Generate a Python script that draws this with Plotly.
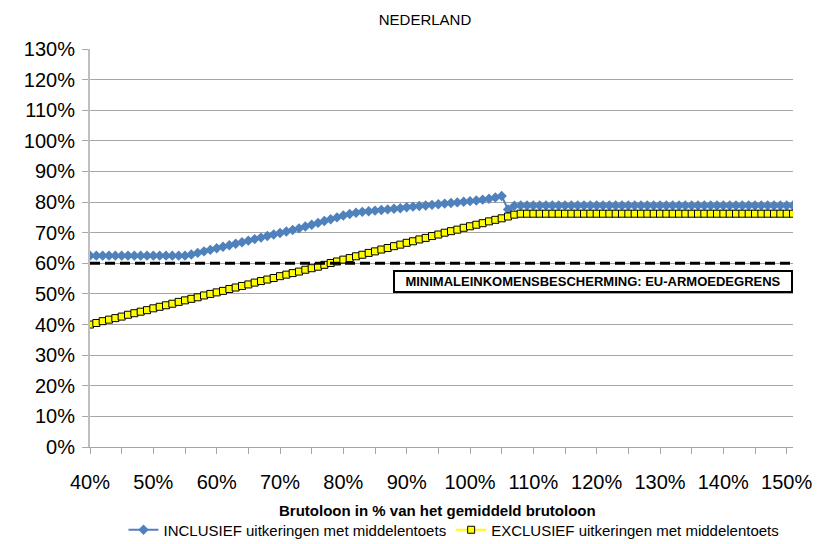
import plotly.graph_objects as go

# Brutoloon als % van het gemiddeld brutoloon (40% .. 151%, stappen van 1%)
brutoloon = list(range(40, 152))

# Netto inkomen inclusief uitkeringen met middelentoets (% van gemiddeld)
inclusief = [
    62.5, 62.5, 62.5, 62.5, 62.5, 62.5, 62.5, 62.5, 62.5, 62.5,   # 40-49
    62.5, 62.5, 62.5, 62.5, 62.5, 62.5, 62.9, 63.4, 63.9, 64.4,   # 50-59
    64.9, 65.4, 65.9, 66.4, 66.9, 67.4, 67.9, 68.4, 68.9, 69.4,   # 60-69
    69.9, 70.4, 70.9, 71.4, 72.0, 72.6, 73.2, 73.8, 74.4, 75.0,   # 70-79
    75.6, 76.1, 76.5, 76.8, 77.0, 77.2, 77.4, 77.6, 77.8, 78.0,   # 80-89
    78.3, 78.5, 78.7, 78.9, 79.1, 79.3, 79.5, 79.7, 79.9, 80.1,   # 90-99
    80.3, 80.5, 80.8, 81.1, 81.5, 82.0, 77.6, 78.8, 78.9, 78.9,   # 100-109
    78.9, 78.9, 78.9, 78.9, 78.9, 78.9, 78.9, 78.9, 78.9, 78.9,   # 110-119
    78.9, 78.9, 78.9, 78.9, 78.9, 78.9, 78.9, 78.9, 78.9, 78.9,   # 120-129
    78.9, 78.9, 78.9, 78.9, 78.9, 78.9, 78.9, 78.9, 78.9, 78.9,   # 130-139
    78.9, 78.9, 78.9, 78.9, 78.9, 78.9, 78.9, 78.9, 78.9, 78.9,   # 140-149
    78.9, 78.9,                                                   # 150-151
]

# Netto inkomen exclusief uitkeringen met middelentoets (% van gemiddeld)
exclusief = [
    40.0, 40.5, 41.1, 41.6, 42.1, 42.6, 43.2, 43.7, 44.2, 44.7,   # 40-49
    45.3, 45.8, 46.3, 46.8, 47.4, 47.9, 48.4, 48.9, 49.5, 50.0,   # 50-59
    50.5, 51.0, 51.6, 52.1, 52.6, 53.1, 53.7, 54.2, 54.7, 55.2,   # 60-69
    55.8, 56.3, 56.8, 57.3, 57.9, 58.4, 58.9, 59.5, 60.1, 60.6,   # 70-79
    61.2, 61.7, 62.3, 62.8, 63.4, 63.9, 64.5, 65.0, 65.6, 66.1,   # 80-89
    66.7, 67.2, 67.8, 68.3, 68.9, 69.4, 70.0, 70.5, 71.0, 71.6,   # 90-99
    72.1, 72.6, 73.1, 73.7, 74.2, 74.7, 75.3, 75.9, 76.2, 76.2,   # 100-109
    76.2, 76.2, 76.2, 76.2, 76.2, 76.2, 76.2, 76.2, 76.2, 76.2,   # 110-119
    76.2, 76.2, 76.2, 76.2, 76.2, 76.2, 76.2, 76.2, 76.2, 76.2,   # 120-129
    76.2, 76.2, 76.2, 76.2, 76.2, 76.2, 76.2, 76.2, 76.2, 76.2,   # 130-139
    76.2, 76.2, 76.2, 76.2, 76.2, 76.2, 76.2, 76.2, 76.2, 76.2,   # 140-149
    76.2, 76.2,                                                   # 150-151
]

armoedegrens = 60.0
x_ticks = [40, 50, 60, 70, 80, 90, 100, 110, 120, 130, 140, 150]
x_ticktext = [f"{v}%" for v in x_ticks]

W, H = 832, 544
M_L, M_R, M_T, M_B = 90, 39, 49, 97
PLOT_W, PLOT_H = W - M_L - M_R, H - M_T - M_B
FONT = "Liberation Sans, Arial, sans-serif"
GRID = "#A6A6A6"

fig = go.Figure()

fig.add_trace(go.Scatter(
    x=brutoloon, y=inclusief, mode="lines+markers",
    name="INCLUSIEF uitkeringen met middelentoets",
    line=dict(color="#4F81BD", width=2),
    marker=dict(symbol="diamond", size=8, color="#4F81BD"),
))
fig.add_trace(go.Scatter(
    x=brutoloon, y=exclusief, mode="lines+markers",
    name="EXCLUSIEF uitkeringen met middelentoets",
    line=dict(color="#FFFF00", width=2),
    marker=dict(symbol="square", size=7, color="#FFFF00",
                line=dict(color="#000000", width=1)),
))

# EU-armoedegrens (60%)
fig.add_shape(type="line", xref="x", yref="y",
              x0=40, x1=151, y0=armoedegrens, y1=armoedegrens,
              line=dict(color="#000000", width=3, dash="10px,5px"), layer="above")

fig.add_annotation(
    x=119.4, y=54.1, xref="x", yref="y",
    text="<b>MINIMALEINKOMENSBESCHERMING: EU-ARMOEDEGRENS</b>",
    showarrow=False, width=394, height=17,
    bordercolor="#000000", borderwidth=2, borderpad=1, bgcolor="#FFFFFF",
    font=dict(family=FONT, size=13, color="#000000"),
)

# x-as titel (onder de tick labels)
fig.add_annotation(
    x=(437 - M_L) / PLOT_W, y=((H - M_B) - 510) / PLOT_H,
    xref="paper", yref="paper",
    xanchor="center", yanchor="middle", showarrow=False,
    text="<b>Brutoloon in % van het gemiddeld brutoloon</b>",
    font=dict(family=FONT, size=15, color="#000000"),
)

fig.update_layout(
    width=W, height=H,
    margin=dict(l=M_L, r=M_R, t=M_T, b=M_B, autoexpand=False),
    paper_bgcolor="#FFFFFF", plot_bgcolor="#FFFFFF",
    font=dict(family=FONT, size=20, color="#000000"),
    title=dict(text="NEDERLAND", x=425 / W, y=1 - 20 / H,
               xref="container", yref="container",
               xanchor="center", yanchor="middle",
               font=dict(family=FONT, size=15, color="#000000")),
    showlegend=True,
    legend=dict(orientation="h", xref="container", yref="container",
                x=454 / W, xanchor="center", y=1 - 530 / H, yanchor="middle",
                font=dict(family=FONT, size=15), itemwidth=30,
                bgcolor="rgba(0,0,0,0)"),
    xaxis=dict(
        range=[40, 151], tickvals=x_ticks, ticktext=x_ticktext,
        showgrid=False, zeroline=False, automargin=False,
        showline=True, linecolor=GRID, linewidth=1,
        ticks="outside", ticklen=6, tickcolor=GRID,
        minor=dict(dtick=5, tick0=40, ticks="outside", ticklen=6, tickcolor=GRID, showgrid=False),
        tickfont=dict(size=20), ticklabelstandoff=11,
    ),
    yaxis=dict(
        range=[0, 130], dtick=10, ticksuffix="%",
        showgrid=True, gridcolor=GRID, gridwidth=1, zeroline=False, automargin=False,
        showline=True, linecolor="#BFBFBF", linewidth=2,
        ticks="outside", ticklen=6, tickcolor=GRID,
        tickfont=dict(size=20), ticklabelstandoff=3,
    ),
)

fig.write_html("out.html")
